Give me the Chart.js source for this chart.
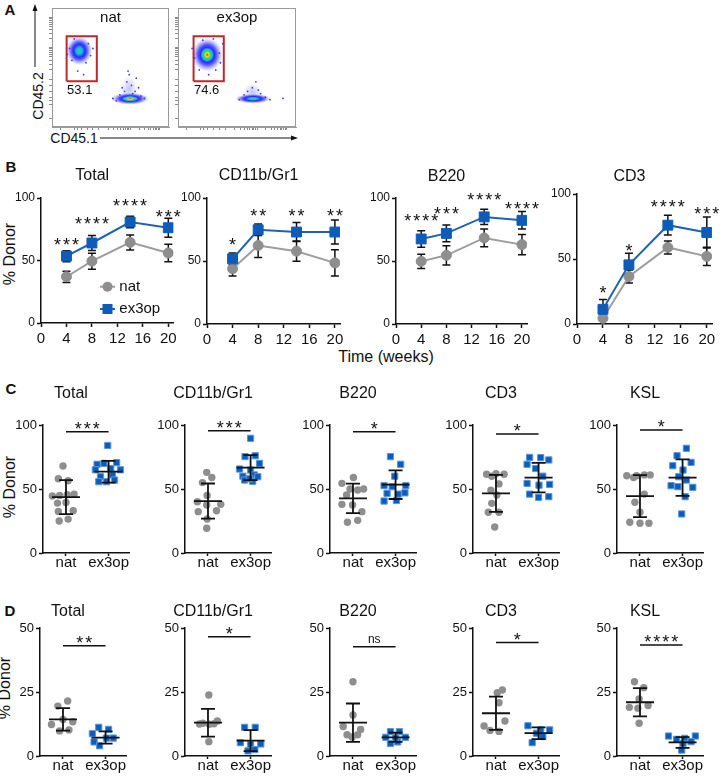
<!DOCTYPE html>
<html>
<head>
<meta charset="utf-8">
<script src="https://cdn.jsdelivr.net/npm/chart.js@4.4.1/dist/chart.umd.min.js"></script>
<style>
  html, body { margin: 0; padding: 0; background: #fff; overflow: hidden; }
  #page { position: relative; width: 720px; height: 778px; overflow: hidden;
          font-family: "Liberation Sans", Arial, Helvetica, sans-serif; color: #111; }
  .box { position: absolute; }
  .lbl { position: absolute; white-space: nowrap; line-height: 1; transform: translate(-50%, -50%); }
  .panel { font-weight: bold; font-size: 15px; }
  .rot { transform: translate(-50%, -50%) rotate(-90deg); }
</style>
</head>
<body>
<div id="page">
  <div class="lbl panel" style="left:10px;top:9px">A</div>
  <div class="lbl panel" style="left:11px;top:166px">B</div>
  <div class="lbl panel" style="left:11px;top:388px">C</div>
  <div class="lbl panel" style="left:10px;top:610px">D</div>

  <svg class="box" style="left:0;top:0" width="320" height="150">
    <line x1="35" y1="67" x2="35" y2="10" stroke="#111" stroke-width="1"/>
    <polygon points="35,4 32.5,11 37.5,11" fill="#111"/>
    <line x1="100" y1="138" x2="292" y2="138" stroke="#111" stroke-width="1"/>
    <polygon points="298,138 291,135.5 291,140.5" fill="#111"/>
  </svg>
  <div class="lbl rot" style="left:38px;top:96px;font-size:14px">CD45.2</div>
  <div class="lbl" style="left:74px;top:138px;font-size:14px">CD45.1</div>

  <div class="lbl" style="left:386px;top:357px;font-size:16px">Time (weeks)</div>
  <div class="lbl rot" style="left:10px;top:254px;font-size:16px">% Donor</div>
  <div class="lbl rot" style="left:10px;top:487px;font-size:16px">% Donor</div>
  <div class="lbl rot" style="left:5px;top:688px;font-size:16px">% Donor</div>
</div>

<script>
// ---------------- data ----------------
var groups = ['nat', 'ex3op'];

// A: flow plots, both axes in display units 0-100
var flowTicks = [7, 19, 22, 25, 30, 35, 40, 48.1, 52.9, 56.3, 58.9, 61, 62.8, 64.4, 65.8, 67,
                 74.5, 78.9, 82.1, 84.5, 86.5, 88.1, 89.6, 90.9, 92];
var natGate = [12.5, 38.3, 38.5, 76.2];        // xmin, xmax, ymin, ymax
var ex3opGate = [13.2, 38.8, 38.5, 76.2];
var gatePct = ['53.1', '74.6'];
// clusters: centre x, centre y, spread x, spread y, peak density level (0 blue .. 4 red)
var natClusters = [[66, 32, 7, 11, 0], [23.3, 64, 11, 12, 2], [66.7, 23.8, 16, 5, 4]];
var ex3opClusters = [[63, 29, 8, 8, 0], [24.8, 60.7, 13, 14, 4], [63.6, 23.8, 15, 4, 2]];
var natSpeckle = [[15, 66], [31, 70], [17, 56], [29, 54], [22, 47], [27, 44], [33, 60], [19, 74], [35, 66], [13, 61],
                  [60, 33], [64, 38], [68, 35], [71, 30], [58, 27], [76, 26], [79, 24], [55, 22], [72, 41], [66, 44],
                  [62, 30], [69, 28], [65, 47], [74, 33], [52, 24]];
var ex3opSpeckle = [[14, 58], [35, 62], [18, 48], [32, 48], [26, 44], [21, 73], [30, 74], [36, 54], [12, 66], [38, 70],
                    [56, 27], [70, 28], [74, 25], [52, 23], [78, 23], [63, 33], [66, 38], [89, 24], [59, 30], [68, 31]];

// B: % donor over time, mean and SD
var weeks = [4, 8, 14, 20];
var weekTicks = [0, 4, 8, 12, 16, 20];
var donorTicks = [0, 50, 100];

var bTotalNat = [37, 49.5, 64.5, 56];
var bTotalNatSd = [4.5, 6.4, 6, 7];
var bTotalEx = [53.5, 64, 80.8, 76.2];
var bTotalExSd = [4.4, 6, 4.6, 7.6];
var bTotalStars = ['***', '****', '****', '***'];
var bTotalStarY = [66, 83, 97, 88];

var bMyeloNat = [43.8, 62.3, 57.8, 48.5];
var bMyeloNatSd = [5.7, 9.5, 8, 10.5];
var bMyeloEx = [51.7, 74.8, 73, 73];
var bMyeloExSd = [4.7, 4.5, 7.5, 9.5];
var bMyeloStars = ['*', '**', '**', '**'];
var bMyeloStarY = [66, 89, 89, 89];

var bB220Nat = [49.7, 54.5, 68.3, 63];
var bB220NatSd = [5.7, 7.7, 7, 8];
var bB220Ex = [67.5, 71.9, 85, 82.3];
var bB220ExSd = [6.6, 6.6, 6, 6.9];
var bB220Stars = ['****', '***', '****', '****'];
var bB220StarY = [85, 91, 102, 95];

var bCD3Nat = [4.4, 36.5, 58.9, 52];
var bCD3NatSd = [1.5, 5, 5, 7];
var bCD3Ex = [11.3, 45.5, 76, 70.4];
var bCD3ExSd = [7.5, 9, 7.6, 12];
var bCD3Stars = ['*', '*', '****', '***'];
var bCD3StarY = [27.5, 59.6, 93, 88];

// C and D: individual mice, [jitter, % donor]
var cellTypes = ['Total', 'CD11b/Gr1', 'B220', 'CD3', 'KSL'];
var cTicks = [0, 50, 100];
var dTicks = [0, 25, 50];

var cTotalNat = [[-0.07, 68], [-0.18, 58], [0.05, 56.5], [-0.32, 44.5], [-0.15, 45], [0.03, 45.5], [0.19, 46],
                 [-0.2, 39], [0, 39.5], [-0.18, 32.5], [0.17, 33], [-0.16, 25], [0.05, 26.5]];
var cTotalEx = [[-0.02, 84], [-0.27, 69.3], [-0.11, 70], [0.19, 70.6], [-0.31, 65], [0.05, 66], [0.28, 65],
                [-0.19, 59.6], [0.09, 61], [-0.23, 55.7], [-0.05, 55.7], [0.14, 57]];
var cMyeloNat = [[-0.03, 63], [0.09, 59], [-0.13, 55], [-0.02, 45], [-0.25, 40], [-0.03, 37.5], [0.3, 38],
                 [-0.23, 32.3], [0.2, 33], [-0.02, 26.6], [-0.03, 19.3]];
var cMyeloEx = [[0, 89.6], [-0.13, 75.3], [0.11, 76], [-0.26, 65.6], [0, 64.8], [0.21, 70], [-0.18, 60],
                [0.09, 61], [-0.14, 57], [0.05, 56], [0.17, 59.6], [-0.02, 58]];
var cB220Nat = [[-0.26, 54.4], [0.01, 59], [-0.07, 50], [0.11, 49.2], [0.25, 50], [-0.15, 45.3], [-0.26, 38],
                [-0.01, 37.5], [0.21, 32.3], [-0.13, 24], [0.11, 25.5]];
var cB220Ex = [[-0.12, 75.3], [0.12, 69.3], [-0.02, 60], [-0.27, 52.6], [-0.08, 51.8], [0.24, 52.6], [-0.2, 46.6],
               [0.06, 46], [-0.27, 40.6], [0.02, 41], [0.22, 47]];
var cCD3Nat = [[-0.22, 61.5], [0, 62], [0.19, 61.5], [-0.1, 60], [0.07, 54], [-0.12, 49], [0.02, 45.3],
               [-0.1, 38.8], [-0.18, 31.8], [0.07, 31.8], [-0.03, 20.3]];
var cCD3Ex = [[-0.21, 74.7], [0.05, 74.5], [0.24, 72.7], [-0.27, 69.3], [-0.07, 66], [-0.27, 54.4], [0.01, 53],
              [0.26, 53.6], [-0.21, 46], [0, 43.5], [0.24, 44], [0.1, 60]];
var cKSLNat = [[-0.31, 60.4], [-0.08, 60.4], [0.1, 61], [0.24, 61], [0.1, 46], [-0.12, 39.6], [0, 31.8],
               [-0.24, 24], [0, 23.2], [0.21, 23.2], [-0.15, 59]];
var cKSLEx = [[0.09, 81.8], [-0.13, 76], [-0.23, 68.2], [0.01, 64.8], [0.2, 70.8], [-0.09, 59.6], [0.09, 57],
              [-0.27, 52.6], [-0.11, 51.8], [0.24, 51.3], [0.06, 44], [-0.02, 30.5]];
var cNatMean = [43.7, 40.6, 42.7, 46.6, 44.5];
var cNatSd = [13.3, 13.7, 11.5, 14.5, 16.4];
var cExMean = [63.5, 66.7, 53.4, 58.9, 58.9];
var cExSd = [8.5, 9.8, 11.2, 11.5, 14.3];
var cSigText = ['***', '***', '*', '*', '*'];
var cSigLevel = [94.8, 95.5, 94.8, 93, 96];

var dTotalNat = [[0.11, 21.5], [-0.12, 19.5], [0, 14.3], [-0.27, 12.3], [0.23, 13.4], [-0.08, 9.8], [0.14, 10.2]];
var dTotalEx = [[-0.16, 11.2], [0.07, 10.4], [-0.31, 8.7], [0.18, 7], [-0.27, 5.5], [-0.14, 4], [0.02, 7]];
var dMyeloNat = [[0.02, 23.8], [0.22, 13.7], [-0.12, 12.8], [0.03, 12.4], [0.14, 12.6], [0.02, 5.6], [-0.2, 12.5]];
var dMyeloEx = [[-0.14, 11.2], [0.11, 11.2], [-0.24, 5.2], [0, 4.5], [0.24, 4.7], [-0.06, 2], [0.1, 2.5]];
var dB220Nat = [[0, 29], [0, 16], [-0.23, 11.5], [0.18, 10.4], [-0.14, 8.3], [0.11, 8.3], [-0.02, 7.4]];
var dB220Ex = [[-0.12, 9.5], [0.09, 9.5], [-0.23, 7.3], [0.23, 7.3], [-0.12, 4.9], [0.05, 5.5], [0, 7]];
var dCD3Nat = [[0.15, 25.8], [0.03, 24.7], [0.07, 20.8], [-0.28, 11.7], [0.21, 13.7], [-0.14, 10], [0.07, 9.6]];
var dCD3Ex = [[-0.25, 11.8], [0.05, 10.2], [0.26, 10.2], [-0.05, 8.9], [0.1, 7.6], [-0.15, 5.2]];
var dKSLNat = [[-0.13, 29], [0.09, 26.7], [-0.25, 19], [-0.02, 22.3], [0.19, 19.7], [-0.05, 18.7], [-0.02, 12.8]];
var dKSLEx = [[-0.33, 7.8], [-0.14, 6.5], [0.3, 7.8], [0.05, 6.9], [0.01, 4.9], [-0.02, 2.3], [0.2, 5.6]];
var dNatMean = [14.3, 13, 13, 16.7, 21];
var dNatSd = [4.4, 5.4, 7.5, 6.5, 5.5];
var dExMean = [7.2, 6, 7.3, 8.9, 5.3];
var dExSd = [2.4, 4.1, 1.8, 2.3, 2.1];
var dSigText = ['**', '*', 'ns', '*', '****'];
var dSigLevel = [43.1, 46.6, 42.7, 44.3, 43.4];

// ---------------- style ----------------
var FONT = '"Liberation Sans", Arial, Helvetica, sans-serif';
var INK = '#111';
var NAT_COLOR = '#8e8e8e';
var NAT_LINE = '#9d9d9d';
var EX_COLOR = '#0d5cb9';
var EX_EDGE = '#5a98dc';
var EX_LINE = '#1e62b6';
var GATE_COLOR = '#c3262c';
var DENSITY = ['#2a2aff', '#18b8f2', '#34dc4a', '#eedf22', '#f2320c'];

Chart.defaults.font.family = FONT;
Chart.defaults.color = INK;
Chart.defaults.animation = false;

var page = document.getElementById('page');

function addCanvas(left, top, width, height) {
  var box = document.createElement('div');
  box.className = 'box';
  box.style.left = left + 'px';
  box.style.top = top + 'px';
  box.style.width = width + 'px';
  box.style.height = height + 'px';
  var c = document.createElement('canvas');
  box.appendChild(c);
  page.appendChild(box);
  return c;
}

function setTicks(list) {
  return function (scale) {
    scale.ticks = list.map(function (v) { return { value: v }; });
  };
}
function fixWidth(w) { return function (s) { s.width = w; }; }
function fixHeight(h) { return function (s) { s.height = h; }; }

function axis(extra, fontSize, pad, tickLen) {
  var a = {
    border: { display: true, color: INK, width: 1.5 },
    grid: { display: true, drawOnChartArea: false, drawTicks: true, tickLength: tickLen, tickColor: INK, tickWidth: 1.5 },
    ticks: { color: INK, font: { size: fontSize }, padding: pad, maxRotation: 0, autoSkip: false }
  };
  return Object.assign(a, extra);
}

function drawMark(ctx, text, x, yCenter) {
  var stars = text.indexOf('*') >= 0;
  var size = stars ? 18 : 12;
  ctx.font = size + 'px ' + FONT;
  ctx.letterSpacing = stars ? '2px' : '0px';
  ctx.textAlign = 'center';
  ctx.textBaseline = 'alphabetic';
  ctx.fillText(text, x + (stars ? 1 : 0), yCenter + (stars ? 0.57 : 0.26) * size);
  ctx.letterSpacing = '0px';
}

// ---------------- plugins ----------------
var errBars = {
  id: 'errBars',
  beforeDatasetsDraw: function (chart) {
    var ctx = chart.ctx, sy = chart.scales.y;
    ctx.save();
    ctx.strokeStyle = INK;
    ctx.lineWidth = 1.5;
    chart.data.datasets.forEach(function (ds, i) {
      var meta = chart.getDatasetMeta(i);
      meta.data.forEach(function (pt, j) {
        var v = ds.data[j].y, e = ds.errors[j];
        var top = sy.getPixelForValue(v + e), bot = sy.getPixelForValue(v - e);
        ctx.beginPath();
        ctx.moveTo(pt.x, top); ctx.lineTo(pt.x, bot);
        ctx.moveTo(pt.x - 4, top); ctx.lineTo(pt.x + 4, top);
        ctx.moveTo(pt.x - 4, bot); ctx.lineTo(pt.x + 4, bot);
        ctx.stroke();
      });
    });
    ctx.restore();
  }
};

function starsPlugin(marks, levels) {
  return {
    id: 'stars',
    afterDatasetsDraw: function (chart) {
      var ctx = chart.ctx, sx = chart.scales.x, sy = chart.scales.y;
      ctx.save();
      ctx.fillStyle = INK;
      marks.forEach(function (m, i) {
        drawMark(ctx, m, sx.getPixelForValue(weeks[i]), sy.getPixelForValue(levels[i]));
      });
      ctx.restore();
    }
  };
}

var innerLegend = {
  id: 'innerLegend',
  afterDraw: function (chart) {
    var a = chart.chartArea, ctx = chart.ctx;
    var items = [
      { text: groups[0], dy: 88.7, line: NAT_LINE, fill: NAT_COLOR, square: false },
      { text: groups[1], dy: 111, line: EX_LINE, fill: EX_COLOR, square: true }
    ];
    ctx.save();
    items.forEach(function (it) {
      var y = a.top + it.dy, x0 = a.left + 59, xm = a.left + 66.5;
      ctx.strokeStyle = it.line;
      ctx.lineWidth = 2;
      ctx.beginPath(); ctx.moveTo(x0, y); ctx.lineTo(x0 + 15, y); ctx.stroke();
      ctx.fillStyle = it.fill;
      if (it.square) {
        ctx.fillRect(xm - 5, y - 5, 10, 10);
      } else {
        ctx.beginPath(); ctx.arc(xm, y, 5, 0, Math.PI * 2); ctx.fill();
      }
      ctx.fillStyle = INK;
      ctx.font = '15px ' + FONT;
      ctx.textAlign = 'left';
      ctx.textBaseline = 'middle';
      ctx.fillText(it.text, a.left + 78.3, y);
    });
    ctx.restore();
  }
};

function meanSdPlugin(means, sds) {
  return {
    id: 'meanSd',
    afterDatasetsDraw: function (chart) {
      var ctx = chart.ctx, sx = chart.scales.x, sy = chart.scales.y;
      ctx.save();
      ctx.strokeStyle = INK;
      ctx.lineWidth = 1.8;
      means.forEach(function (m, g) {
        var cx = sx.getPixelForValue(g + 1), my = sy.getPixelForValue(m);
        var hi = sy.getPixelForValue(m + sds[g]), lo = sy.getPixelForValue(Math.max(m - sds[g], 0));
        ctx.beginPath();
        ctx.moveTo(cx - 14, my); ctx.lineTo(cx + 14, my);
        ctx.moveTo(cx, hi); ctx.lineTo(cx, lo);
        ctx.moveTo(cx - 7, hi); ctx.lineTo(cx + 7, hi);
        ctx.moveTo(cx - 7, lo); ctx.lineTo(cx + 7, lo);
        ctx.stroke();
      });
      ctx.restore();
    }
  };
}

function sigPlugin(text, level) {
  return {
    id: 'sig',
    afterDatasetsDraw: function (chart) {
      var ctx = chart.ctx, sx = chart.scales.x, sy = chart.scales.y;
      var x1 = sx.getPixelForValue(1), x2 = sx.getPixelForValue(2), y = sy.getPixelForValue(level);
      ctx.save();
      ctx.strokeStyle = INK;
      ctx.lineWidth = 1.5;
      ctx.beginPath(); ctx.moveTo(x1, y); ctx.lineTo(x2, y); ctx.stroke();
      ctx.fillStyle = INK;
      drawMark(ctx, text, (x1 + x2) / 2, y - 7);
      ctx.restore();
    }
  };
}

function densityPlugin(clusters) {
  return {
    id: 'density',
    beforeDatasetsDraw: function (chart) {
      var ctx = chart.ctx, sx = chart.scales.x, sy = chart.scales.y;
      clusters.forEach(function (c) {
        var px = sx.getPixelForValue(c[0]), py = sy.getPixelForValue(c[1]);
        var rx = Math.abs(sx.getPixelForValue(c[0] + c[2]) - px);
        var ry = Math.abs(sy.getPixelForValue(c[1] + c[3]) - py);
        var peak = c[4];
        ctx.save();
        ctx.translate(px, py);
        ctx.scale(rx, ry);
        var gr = ctx.createRadialGradient(0, 0, 0, 0, 0, 1);
        if (peak === 0) {
          gr.addColorStop(0, 'rgba(42,42,255,0.28)');
          gr.addColorStop(1, 'rgba(42,42,255,0)');
        } else {
          for (var k = peak; k >= 0; k--) {
            gr.addColorStop(0.45 * (peak - k) / peak, DENSITY[k]);
          }
          gr.addColorStop(0.62, 'rgba(42,42,255,0.75)');
          gr.addColorStop(0.8, 'rgba(60,60,255,0.35)');
          gr.addColorStop(1, 'rgba(80,80,255,0)');
        }
        ctx.fillStyle = gr;
        ctx.beginPath();
        ctx.arc(0, 0, 1, 0, Math.PI * 2);
        ctx.fill();
        ctx.restore();
      });
    }
  };
}

var framePlugin = {
  id: 'frame',
  afterDraw: function (chart) {
    var a = chart.chartArea, ctx = chart.ctx;
    ctx.save();
    ctx.strokeStyle = '#9a9a9a';
    ctx.lineWidth = 1;
    ctx.strokeRect(a.left + 0.5, a.top + 0.5, a.right - a.left - 1, a.bottom - a.top - 1);
    ctx.restore();
  }
};

function flowTextPlugin(title, pct, gate) {
  return {
    id: 'flowText',
    afterDraw: function (chart) {
      var a = chart.chartArea, ctx = chart.ctx, sx = chart.scales.x, sy = chart.scales.y;
      ctx.save();
      ctx.fillStyle = INK;
      ctx.textAlign = 'center';
      ctx.textBaseline = 'middle';
      ctx.font = '15px ' + FONT;
      ctx.fillText(title, (a.left + a.right) / 2, a.top + 10);
      ctx.font = '13px ' + FONT;
      ctx.fillText(pct, sx.getPixelForValue((gate[0] + gate[1]) / 2) - 2, sy.getPixelForValue(gate[2]) + 9);
      ctx.restore();
    }
  };
}

// ---------------- charts ----------------
function makeFlowChart(p) {
  var canvas = addCanvas(p.left - 4, p.top - 1, p.width + 5, p.height + 5);
  var g = p.gate;
  var flowAxis = function (fit) {
    return {
      min: 0, max: 100,
      afterBuildTicks: setTicks(flowTicks),
      afterFit: fit,
      ticks: { display: false },
      grid: { display: true, drawOnChartArea: false, tickLength: 3, tickColor: '#8a8a8a', tickWidth: 1 },
      border: { display: true, color: '#9a9a9a', width: 1 }
    };
  };
  new Chart(canvas, {
    type: 'scatter',
    data: {
      datasets: [
        { data: p.speckle.map(function (s) { return { x: s[0], y: s[1] }; }),
          pointRadius: 0.9, backgroundColor: '#3a3af0', borderWidth: 0 },
        { data: [{ x: g[0], y: g[2] }, { x: g[1], y: g[2] }, { x: g[1], y: g[3] }, { x: g[0], y: g[3] }, { x: g[0], y: g[2] }],
          showLine: true, borderColor: GATE_COLOR, borderWidth: 2, borderJoinStyle: 'miter', pointRadius: 0, fill: false }
      ]
    },
    options: {
      responsive: true, maintainAspectRatio: false, animation: false, events: [],
      layout: { padding: { top: 1, right: 1, left: 0, bottom: 0 } },
      plugins: { legend: { display: false }, tooltip: { enabled: false } },
      scales: { x: flowAxis(fixHeight(4)), y: flowAxis(fixWidth(4)) }
    },
    plugins: [densityPlugin(p.clusters), framePlugin, flowTextPlugin(p.title, p.pct, g)]
  });
}

function makeLineChart(p) {
  var YW = 30, XH = 22;
  var L = p.left - YW, T = Math.round(p.titleY - 9.6);
  var W = Math.round(2 * (p.titleX - L));
  var pr = W - YW - (p.right - p.left);
  var H = p.bottom + XH - T;
  var tb = p.top - T - 19.2;
  var canvas = addCanvas(L, T, W, H);
  var toXY = function (vals) { return vals.map(function (v, i) { return { x: weeks[i], y: v }; }); };
  new Chart(canvas, {
    type: 'line',
    data: {
      datasets: [
        { label: groups[1], data: toXY(p.ex), errors: p.exSd, borderColor: EX_LINE, borderWidth: 2,
          pointStyle: 'rect', pointRadius: 7, pointBackgroundColor: EX_COLOR, pointBorderColor: EX_COLOR, pointBorderWidth: 1 },
        { label: groups[0], data: toXY(p.nat), errors: p.natSd, borderColor: NAT_LINE, borderWidth: 2,
          pointStyle: 'circle', pointRadius: 5, pointBackgroundColor: NAT_COLOR, pointBorderColor: NAT_COLOR, pointBorderWidth: 1 }
      ]
    },
    options: {
      responsive: true, maintainAspectRatio: false, animation: false, events: [],
      layout: { padding: { left: 0, right: pr, top: 0, bottom: 0 } },
      plugins: {
        legend: { display: false }, tooltip: { enabled: false },
        title: { display: true, text: p.title, color: INK, font: { size: 16, weight: 'normal' }, padding: { top: 0, bottom: tb } }
      },
      scales: {
        x: axis({ type: 'linear', min: 0, max: 20.8, afterBuildTicks: setTicks(weekTicks), afterFit: fixHeight(XH) }, 15, 3, 4),
        y: axis({ min: 0, max: 100, afterBuildTicks: setTicks(donorTicks), afterFit: fixWidth(YW) }, 12, 2, 4)
      }
    },
    plugins: [errBars, starsPlugin(p.stars, p.starY)].concat(p.legend ? [innerLegend] : [])
  });
}

function makeDotChart(p) {
  var YW = 30, XH = 22, AW = 86;
  var L = p.left - YW, T = Math.round(p.titleY - 9.6);
  var W = Math.round(2 * (p.titleX - L));
  var pr = W - YW - AW;
  var H = p.bottom + XH - T;
  var tb = p.top - T - 19.2;
  var canvas = addCanvas(L, T, W, H);
  var toXY = function (pts, pos) { return pts.map(function (q) { return { x: pos + q[0], y: q[1] }; }); };
  new Chart(canvas, {
    type: 'scatter',
    data: {
      datasets: [
        { label: groups[1], data: toXY(p.ex, 2), pointStyle: 'rect', pointRadius: 4.4,
          backgroundColor: EX_COLOR, borderColor: EX_EDGE, borderWidth: 1 },
        { label: groups[0], data: toXY(p.nat, 1), pointStyle: 'circle', pointRadius: 3.7,
          backgroundColor: NAT_COLOR, borderColor: NAT_COLOR, borderWidth: 0 }
      ]
    },
    options: {
      responsive: true, maintainAspectRatio: false, animation: false, events: [],
      layout: { padding: { left: 0, right: pr, top: 0, bottom: 0 } },
      plugins: {
        legend: { display: false }, tooltip: { enabled: false },
        title: { display: true, text: p.title, color: INK, font: { size: 16, weight: 'normal' }, padding: { top: 0, bottom: tb } }
      },
      scales: {
        x: axis({ type: 'linear', min: 0.46, max: 2.48, afterBuildTicks: setTicks([1, 2]), afterFit: fixHeight(XH),
                  ticks: { color: INK, font: { size: 15 }, padding: -2, maxRotation: 0, autoSkip: false,
                           callback: function (v) { return groups[Math.round(v) - 1]; } } }, 15, -2, 3),
        y: axis({ min: 0, max: p.max, afterBuildTicks: setTicks(p.ticks), afterFit: fixWidth(YW) }, 13, 2, 4)
      }
    },
    plugins: [meanSdPlugin(p.mean, p.sd), sigPlugin(p.sig, p.sigLevel)]
  });
}

// ---------------- layout ----------------
makeFlowChart({ left: 52, top: 5, width: 120, height: 122, gate: natGate, clusters: natClusters,
                speckle: natSpeckle, title: groups[0], pct: gatePct[0] });
makeFlowChart({ left: 178, top: 5, width: 121, height: 122, gate: ex3opGate, clusters: ex3opClusters,
                speckle: ex3opSpeckle, title: groups[1], pct: gatePct[1] });

makeLineChart({ title: cellTypes[0], left: 41, right: 173.4, top: 198, bottom: 323, titleX: 105.5, titleY: 176,
                nat: bTotalNat, natSd: bTotalNatSd, ex: bTotalEx, exSd: bTotalExSd, stars: bTotalStars, starY: bTotalStarY, legend: true });
makeLineChart({ title: cellTypes[1], left: 207, right: 340, top: 198, bottom: 324, titleX: 281, titleY: 176,
                nat: bMyeloNat, natSd: bMyeloNatSd, ex: bMyeloEx, exSd: bMyeloExSd, stars: bMyeloStars, starY: bMyeloStarY });
makeLineChart({ title: cellTypes[2], left: 396, right: 527, top: 198, bottom: 324, titleX: 460, titleY: 176.7,
                nat: bB220Nat, natSd: bB220NatSd, ex: bB220Ex, exSd: bB220ExSd, stars: bB220Stars, starY: bB220StarY });
makeLineChart({ title: cellTypes[3], left: 577, right: 712, top: 194, bottom: 324, titleX: 636, titleY: 176.7,
                nat: bCD3Nat, natSd: bCD3NatSd, ex: bCD3Ex, exSd: bCD3ExSd, stars: bCD3Stars, starY: bCD3StarY });

var cNat = [cTotalNat, cMyeloNat, cB220Nat, cCD3Nat, cKSLNat];
var cEx = [cTotalEx, cMyeloEx, cB220Ex, cCD3Ex, cKSLEx];
var dNat = [dTotalNat, dMyeloNat, dB220Nat, dCD3Nat, dKSLNat];
var dEx = [dTotalEx, dMyeloEx, dB220Ex, dCD3Ex, dKSLEx];
var rowC = { top: 425, bottom: 553, titleY: 394, lefts: [43, 185, 330, 473, 617], titleX: [80.5, 222, 370, 514.5, 660.5] };
var rowD = { top: 628, bottom: 756, titleY: 612, lefts: [40, 185, 330, 473, 617], titleX: [81, 222, 370, 514.5, 661] };

cellTypes.forEach(function (name, i) {
  makeDotChart({ title: name, left: rowC.lefts[i], top: rowC.top, bottom: rowC.bottom, titleX: rowC.titleX[i], titleY: rowC.titleY,
                 max: 100, ticks: cTicks, nat: cNat[i], ex: cEx[i], mean: [cNatMean[i], cExMean[i]], sd: [cNatSd[i], cExSd[i]],
                 sig: cSigText[i], sigLevel: cSigLevel[i] });
  makeDotChart({ title: name, left: rowD.lefts[i], top: rowD.top, bottom: rowD.bottom, titleX: rowD.titleX[i], titleY: rowD.titleY,
                 max: 50, ticks: dTicks, nat: dNat[i], ex: dEx[i], mean: [dNatMean[i], dExMean[i]], sd: [dNatSd[i], dExSd[i]],
                 sig: dSigText[i], sigLevel: dSigLevel[i] });
});
</script>
</body>
</html>
